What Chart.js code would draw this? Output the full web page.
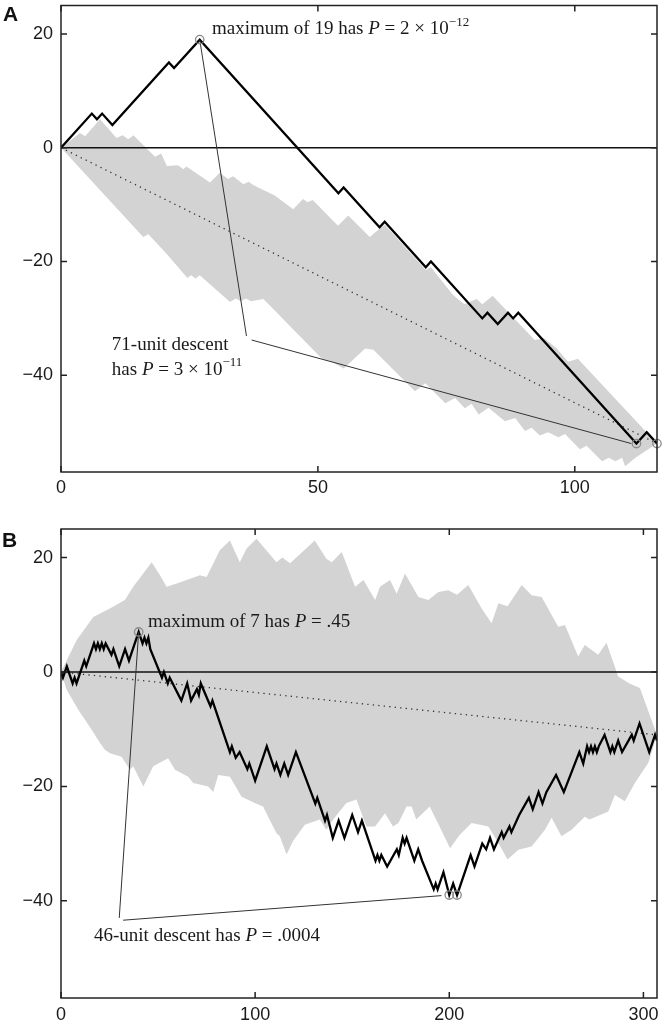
<!DOCTYPE html>
<html>
<head>
<meta charset="utf-8">
<script src="https://cdn.jsdelivr.net/npm/chart.js@4.4.0/dist/chart.umd.min.js"></script>
<style>
  html, body { margin: 0; padding: 0; background: #fff; }
  .panel { position: absolute; left: 0; width: 664px; }
  #wrapA { top: 0; height: 500px; }
  #wrapB { top: 500px; height: 523px; }
  .tag { position: absolute; font: bold 21px "Liberation Sans", Arial, sans-serif; color: #111; }
</style>
</head>
<body>
<div class="panel" id="wrapA">
  <canvas id="chartA" width="664" height="500"></canvas>
  <div class="tag" style="left:3px; top:2px;">A</div>
</div>
<div class="panel" id="wrapB">
  <canvas id="chartB" width="664" height="523"></canvas>
  <div class="tag" style="left:2px; top:28px;">B</div>
</div>
<script>
// panel A : the walk (turning points), the band edges, the mean line end
var walkA = [[0,0],[6,6],[7,5],[8,6],[10,4],[21,15],[22,14],[27,19],[54,-8],[55,-7],[62,-14],[63,-13],
  [71,-21],[72,-20],[82,-30],[83,-29],[85,-31],[87,-29],[88,-30],[89,-29],[112,-52],[114,-50],[116,-52]];
var bandAUpper = [[0,0],[3.7,2.6],[4.7,2],[7.6,5],[10.8,1.7],[12,2.2],[13.1,1.5],[14.1,2.2],[18.3,-1.6],
  [19.5,-1],[20.6,-3.2],[22.8,-3.1],[23.8,-3.8],[24.4,-3.3],[29,-6.1],[30.9,-4.4],[32.5,-5.5],[33.5,-5],
  [35.5,-6.4],[36.5,-6],[37.5,-6.6],[41.6,-8.4],[45.2,-10.8],[47.1,-9],[48,-9.6],[49,-9.2],[53.9,-13.7],
  [55.9,-11.9],[60.1,-15.7],[63,-13.5],[71,-21.5],[72,-21],[76.3,-25.9],[78.5,-27.5],[80.9,-26.6],
  [82,-27.5],[84,-26],[92.2,-33.8],[94,-33.5],[96.4,-35.2],[98.7,-37.6],[100.6,-37.1],[116,-52]];
var bandALower = [[0,0],[16,-15.7],[17,-15.2],[20.5,-18.6],[24.6,-22.9],[25.3,-22.4],[26.2,-23],[27,-22.4],
  [32.9,-27.1],[34,-26.5],[35,-27],[36,-26.5],[37,-27],[39.4,-26.6],[50.7,-37],[52.7,-37.6],[55,-38.8],
  [59.2,-35.3],[60.8,-35.5],[68.9,-42.8],[70.9,-41.4],[74.8,-44.9],[76.7,-44],[78.6,-45.8],[79.9,-45],
  [81.3,-46.9],[83.2,-45.7],[86.4,-48.1],[88.4,-47.5],[90.3,-49.8],[91.6,-49.2],[93.2,-50.6],[94.8,-50],
  [96.8,-50.9],[98.1,-50.3],[101,-53],[102.3,-52.4],[105.3,-55.1],[106.6,-54.5],[107.9,-55.1],
  [109.2,-54.5],[109.8,-56],[111.8,-54.5],[116,-52]];
var meanA = [[0,0],[116,-52]];
var marksA = [[27,19],[112,-52],[116,-52]];
var leadersA = [[[27,19],[36.1,-33.1]], [[37.1,-33.8],[111,-52]]];
var xTicksA = [0, 50, 100];

// panel B
var walkB = [[0,0],[1,-1],[3,1],[6,-2],[7,-1],[8,-2],[12,2],[13,1],[17,5],[18,4],[19,5],[20,4],[21,5],
  [22,4],[23,5],[26,3],[27,4],[30,1],[33,4],[35,2],[40,7],[42,5],[43,6],[44,5],[45,6],[46,4],[52,-1],
  [53,0],[55,-2],[56,-1],[62,-5],[65,-2],[67,-5],[70,-3],[71,-4],[72,-2],[77,-6],[78,-5],[87,-14],
  [88,-13],[90,-15],[92,-14],[96,-17],[97,-16],[100,-19],[106,-13],[110,-17],[111,-16],[113,-18],
  [115,-16],[117,-18],[121,-14],[131,-23],[132,-22],[136,-26],[137,-25],[140,-29],[143,-26],[146,-29],
  [150,-25],[153,-28],[155,-26],[162,-33],[163,-32],[164,-33],[165,-32],[168,-34],[173,-31],[174,-32],
  [176,-29],[177,-30],[178,-29],[182,-33],[184,-31],[186,-33],[192,-38],[193,-37],[194,-38],[197,-35],
  [200,-39],[202,-37],[204,-39],[211,-32],[213,-34],[217,-30],[219,-31],[221,-29],[223,-31],[227,-28],
  [228,-29],[231,-27],[232,-28],[236,-25],[241,-22],[243,-24],[246,-21],[248,-23],[250,-21],[255,-18],
  [259,-21],[267,-14],[269,-16],[271,-13],[272,-14],[273,-13],[274,-14],[275,-13],[276,-14],[277,-13],
  [280,-11],[283,-14],[284,-13],[285,-14],[287,-12],[289,-14],[294,-11],[295,-12],[298,-9],[303,-14],
  [306,-11],[307,-12]];
var bandBUpper = [[0,0],[8.1,5.6],[16.6,9.6],[25.2,11.1],[32.9,12.6],[37.2,14.9],[46.7,19.2],[51,16.9],
  [54.4,14.9],[60,15.5],[71.5,16.9],[75,16.6],[81.8,21.3],[87,23],[92.1,19.2],[95.6,21.6],[100.7,23.3],
  [104,22],[111,19.2],[114,20],[118,19],[130.7,23],[136.7,19.8],[139.5,19.2],[144.6,21],[151.5,14.9],
  [155.8,16.1],[161.8,12.6],[164.3,14.9],[169.5,16.1],[172.9,13.7],[177.2,17.2],[184.1,13.1],
  [189.2,12.6],[194.4,14],[199.5,14.3],[204,13.5],[209.8,15.2],[216.7,11.1],[221.8,8.5],[225.3,12],
  [230,11.5],[237.3,15.2],[242.4,13.4],[247.6,13.1],[256.1,7.9],[259.6,8.2],[266.4,2.7],[269.8,4.7],
  [276.7,3],[281,5.1],[287,-0.8],[292.8,-2],[298.2,-2.8],[307,-11]];
var bandBLower = [[0,0],[2.9,-3.1],[8.9,-6.6],[15.8,-10.1],[20.1,-12.4],[22.6,-13.6],[25.2,-14.2],
  [31.2,-14.8],[35.5,-17.1],[37.2,-16.5],[42.4,-20],[47.5,-16.5],[55.2,-15.1],[58.7,-17.1],[65.5,-18.3],
  [68.1,-19.4],[75.8,-20],[78.4,-21],[81,-18],[87,-18.3],[93,-21.8],[99.8,-22.9],[104.1,-23.5],
  [105.8,-24.7],[111,-28.2],[112.7,-28.7],[116.2,-31.9],[119.6,-29.5],[125.6,-26.7],[133.3,-25.8],
  [136.7,-27.6],[140.2,-25.8],[147,-22.9],[152.2,-22.3],[157.3,-27],[161.8,-27],[166.9,-24.7],[171,-27],
  [173.8,-26.4],[178,-23.5],[180.6,-23.5],[183,-25.8],[189.9,-23.5],[195,-27],[200.4,-30.8],
  [205.3,-28.5],[211.5,-26.4],[220.1,-27],[225.3,-29.9],[230,-32.8],[235.6,-31.1],[242.4,-30.5],
  [249.3,-27.6],[252.7,-25.5],[257.8,-28.7],[263,-27.6],[269.8,-25.3],[272.2,-25.8],[281.9,-24.4],
  [285.3,-21.5],[290.4,-22.6],[295.6,-19.4],[302.5,-15.9],[307,-11]];
var meanB = [[0,0],[307,-11]];
var marksB = [[40,7],[200,-39],[204,-39]];
var leadersB = [[[40,7],[30,-43]], [[32,-43.4],[196,-39.1]]];
var xTicksB = [0, 100, 200, 300];

var yTicks = [-40, -20, 0, 20];

var SANS = '"Liberation Sans", Arial, Helvetica, sans-serif';
var SERIF = '"Liberation Serif", "Times New Roman", serif';
var GRAY = '#d3d3d3';

function pts(list) {
  return list.map(function (p) { return {x: p[0], y: p[1]}; });
}

// frame with inward ticks on all four sides, plus the text notes
function frameAndNotes(notes) {
  return {
    id: 'frameAndNotes',
    afterDatasetsDraw: function (chart) {
      var ctx = chart.ctx, a = chart.chartArea, sx = chart.scales.x, sy = chart.scales.y;
      ctx.save();
      ctx.strokeStyle = '#222';
      ctx.lineWidth = 1.5;
      ctx.strokeRect(a.left, a.top, a.right - a.left, a.bottom - a.top);
      ctx.beginPath();
      sx.ticks.forEach(function (t) {
        var p = sx.getPixelForValue(t.value);
        ctx.moveTo(p, a.bottom); ctx.lineTo(p, a.bottom - 6);
        ctx.moveTo(p, a.top); ctx.lineTo(p, a.top + 6);
      });
      sy.ticks.forEach(function (t) {
        var p = sy.getPixelForValue(t.value);
        ctx.moveTo(a.left, p); ctx.lineTo(a.left + 6, p);
        ctx.moveTo(a.right, p); ctx.lineTo(a.right - 6, p);
      });
      ctx.stroke();

      ctx.fillStyle = '#1a1a1a';
      ctx.textBaseline = 'middle';
      ctx.textAlign = 'left';
      notes.forEach(function (n) {
        var cx = sx.getPixelForValue(n.x), cy = sy.getPixelForValue(n.y);
        n.runs.forEach(function (r) {
          var size = r.sup ? 13 : 19;
          ctx.font = (r.it ? 'italic ' : '') + size + 'px ' + SERIF;
          ctx.fillText(r.s, cx, r.sup ? cy - 7 : cy);
          cx += ctx.measureText(r.s).width;
        });
      });
      ctx.restore();
    }
  };
}

function makeChart(id, d) {
  var datasets = [
    { data: pts(d.upper), fill: '+1', backgroundColor: GRAY, borderColor: 'rgba(0,0,0,0)', borderWidth: 0, order: 9 },
    { data: pts(d.lower), fill: false, borderColor: 'rgba(0,0,0,0)', borderWidth: 0, order: 9 },
    { data: [{x: 0, y: 0}, {x: d.xmax, y: 0}], borderColor: '#111', borderWidth: 1.5, order: 6 },
    { data: pts(d.mean), borderColor: '#333', borderWidth: 1.3, borderDash: [1.3, 4.2], order: 5 },
    { data: pts(d.walk), borderColor: '#000', borderWidth: 2.3, order: 3 },
    { data: pts(d.leaders[0]), borderColor: '#333', borderWidth: 1, order: 2 },
    { data: pts(d.leaders[1]), borderColor: '#333', borderWidth: 1, order: 2 },
    { data: pts(d.marks), showLine: false, pointRadius: 4.2, pointBorderColor: '#8a8a8a',
      pointBackgroundColor: 'rgba(0,0,0,0)', pointBorderWidth: 1.3, clip: false, order: 1 }
  ];
  return new Chart(document.getElementById(id), {
    type: 'line',
    data: { datasets: datasets },
    options: {
      responsive: false,
      animation: false,
      events: [],
      layout: { padding: { left: 0, right: 7, top: d.padTop, bottom: 0 } },
      elements: { point: { radius: 0 }, line: { tension: 0 } },
      plugins: { legend: { display: false }, tooltip: { enabled: false } },
      scales: {
        x: {
          type: 'linear', min: 0, max: d.xmax,
          grid: { display: false, drawTicks: false }, border: { display: false },
          afterBuildTicks: function (s) { s.ticks = d.xticks.map(function (v) { return {value: v}; }); },
          ticks: { padding: d.xpad, color: '#1a1a1a', font: { family: SANS, size: 18 } },
          afterFit: function (s) { s.height = d.xh; s.paddingLeft = 0; s.paddingRight = 0; }
        },
        y: {
          type: 'linear', min: -57, max: 25,
          grid: { display: false, drawTicks: false }, border: { display: false },
          afterBuildTicks: function (s) { s.ticks = yTicks.map(function (v) { return {value: v}; }); },
          ticks: { padding: 8, color: '#1a1a1a', font: { family: SANS, size: 18 },
                   callback: function (v) { return v < 0 ? '\u2212' + Math.abs(v) : String(v); } },
          afterFit: function (s) { s.width = 61; s.paddingTop = 0; s.paddingBottom = 0; }
        }
      }
    },
    plugins: [frameAndNotes(d.notes)]
  });
}

makeChart('chartA', {
  walk: walkA, upper: bandAUpper, lower: bandALower, mean: meanA, marks: marksA, leaders: leadersA,
  xmax: 116, xticks: xTicksA, padTop: 3, xh: 28, xpad: 5,
  notes: [
    { x: 29.4, y: 20.8, runs: [{s: 'maximum of 19 has '}, {s: 'P', it: true}, {s: ' = 2 \u00d7 10'}, {s: '\u221212', sup: true}] },
    { x: 9.9, y: -34.6, runs: [{s: '71-unit descent'}] },
    { x: 9.9, y: -39, runs: [{s: 'has '}, {s: 'P', it: true}, {s: ' = 3 \u00d7 10'}, {s: '\u221211', sup: true}] }
  ]
});

makeChart('chartB', {
  walk: walkB, upper: bandBUpper, lower: bandBLower, mean: meanB, marks: marksB, leaders: leadersB,
  xmax: 307, xticks: xTicksB, padTop: 29, xh: 25, xpad: 6,
  notes: [
    { x: 44.8, y: 8.7, runs: [{s: 'maximum of 7 has '}, {s: 'P', it: true}, {s: ' = .45'}] },
    { x: 17, y: -46.1, runs: [{s: '46-unit descent has '}, {s: 'P', it: true}, {s: ' = .0004'}] }
  ]
});
</script>
</body>
</html>
